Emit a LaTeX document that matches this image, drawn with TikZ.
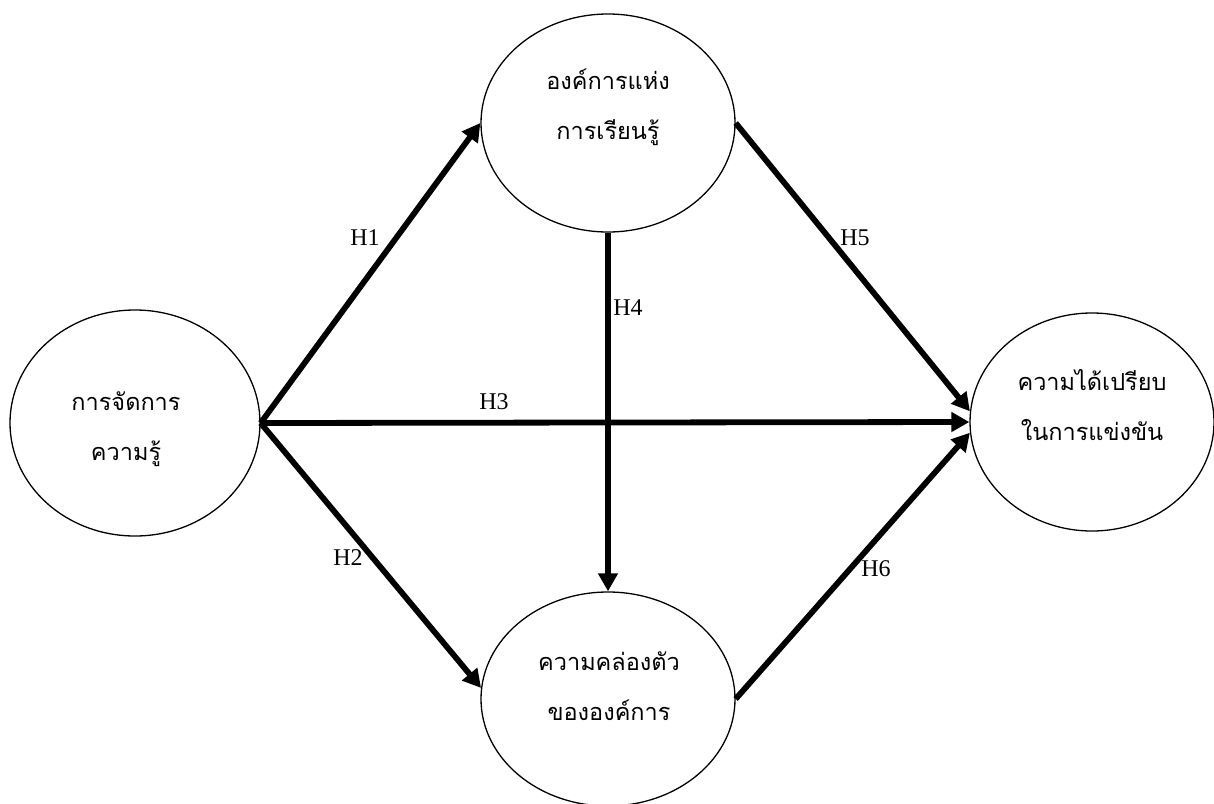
\documentclass[tikz,border=0pt]{standalone}
\usepackage{fontspec}
\setmainfont{Liberation Serif}
\newfontfamily\thaifont[Script=Thai]{Loma}
\usetikzlibrary{arrows.meta,shapes.geometric}
\begin{document}
\begin{tikzpicture}[x=1pt,y=-1pt,
  var/.style={draw, ellipse, line width=1.3pt, inner sep=0pt},
  thaitext/.style={align=center, font=\thaifont\fontsize{23.5}{50}\selectfont, inner sep=0pt},
  hyp/.style={font=\fontsize{24}{26}\selectfont, inner sep=0pt},
  path/.style={line width=5.8pt, -{Triangle[length=18pt,width=19pt]}}]
\useasboundingbox (0,0) rectangle (1214,803);
\node[var, minimum width=250pt, minimum height=226pt] (km) at (135,423) {};
\node[var, minimum width=254pt, minimum height=218pt] (lo) at (608,123) {};
\node[var, minimum width=254pt, minimum height=214pt] (ag) at (608,699) {};
\node[var, minimum width=244pt, minimum height=218pt] (ca) at (1092,422) {};
\node[thaitext] (kmt) at (126,429) {การจัดการ\\ความรู้};
\node[thaitext] (lot) at (608,107) {องค์การแห่ง\\การเรียนรู้};
\node[thaitext] (agt) at (609,686) {ความคล่องตัว\\ขององค์การ};
\node[thaitext] (cat) at (1092,405) {ความได้เปรียบ\\ในการแข่งขัน};
\draw[path] (km.east) -- (lo.west);
\draw[path] (km.east) -- (ag.175);
\draw[path] (km.east) -- (ca.west);
\draw[path] (lo.south) -- (ag.north);
\draw[path] (lo.east) -- (ca.175);
\draw[path] (ag.east) -- (ca.185);
\node[hyp] (h1) at (365,238) {H1};
\node[hyp] (h2) at (348,558) {H2};
\node[hyp] (h3) at (494,402) {H3};
\node[hyp] (h4) at (628,308) {H4};
\node[hyp] (h5) at (855,238) {H5};
\node[hyp] (h6) at (876,569) {H6};
\end{tikzpicture}
\end{document}
